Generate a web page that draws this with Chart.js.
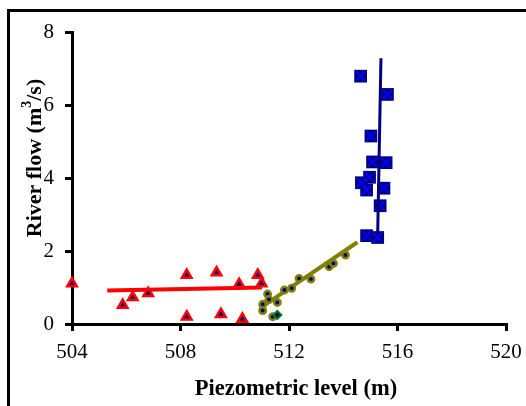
<!DOCTYPE html>
<html>
<head>
<meta charset="utf-8">
<script src="https://cdn.jsdelivr.net/npm/chart.js@4.4.1/dist/chart.umd.min.js"></script>
<style>
  html, body { margin: 0; padding: 0; background: #fff; }
  #wrap { width: 526px; height: 406px; position: relative; }
</style>
</head>
<body>
<div id="wrap"><canvas id="chart" width="526" height="406"></canvas></div>
<script>
/* ── Data ── */
const redX   = [504.0, 505.87, 506.24, 506.81, 508.23, 508.23, 509.33, 509.49, 510.16, 510.28, 510.85, 510.99];
const redY   = [1.11, 0.52, 0.73, 0.84, 1.34, 0.20, 1.41, 0.27, 1.09, 0.14, 1.34, 1.11];

const oliveX = [511.03, 511.03, 511.21, 511.26, 511.40, 511.57, 511.83, 512.10, 512.37, 512.81, 513.48, 513.64, 514.08];
const oliveY = [0.54, 0.37, 0.82, 0.67, 0.20, 0.59, 0.93, 0.98, 1.25, 1.23, 1.57, 1.66, 1.89];

const greenX = [511.57];
const greenY = [0.25];

const blueX  = [514.64, 515.63, 515.02, 515.08, 515.58, 514.97, 514.67, 514.86, 515.50, 515.36, 514.86, 515.27];
const blueY  = [6.79, 6.29, 5.15, 4.44, 4.42, 4.02, 3.87, 3.67, 3.72, 3.24, 2.42, 2.37];

// trend lines (end points)
const redFitX   = [505.3, 511.0];
const redFitY   = [0.92, 1.00];
const oliveFitX = [511.0, 514.52];
const oliveFitY = [0.47, 2.24];
const blueFitX  = [515.27, 515.39];
const blueFitY  = [2.48, 7.28];

const xTicks = [504, 508, 512, 516, 520];
const yTicks = [0, 2, 4, 6, 8];

const FONT = "'Liberation Serif', 'Times New Roman', serif";

const pts = (xs, ys) => xs.map((x, i) => ({ x, y: ys[i] }));

/* ── Frame + axis titles ── */
const decoPlugin = {
  id: 'deco',
  beforeDraw(chart) {
    const ctx = chart.ctx;
    ctx.save();
    ctx.fillStyle = '#000';
    ctx.fillRect(7, 9, 3, 406);
    ctx.fillRect(7, 9, 526, 3);
    ctx.restore();
  },
  afterDraw(chart) {
    const { ctx, chartArea: a } = chart;
    ctx.save();
    ctx.fillStyle = '#000';
    ctx.textAlign = 'center';
    ctx.textBaseline = 'middle';
    ctx.font = `bold 22.5px ${FONT}`;
    ctx.fillText('Piezometric level (m)', (a.left + a.right) / 2 + 7, a.bottom + 65);

    // y title with a real superscript
    const big = `bold 22px ${FONT}`, small = `bold 14px ${FONT}`;
    const parts = [['River flow (m', big, 0], ['3', small, -8], ['/s)', big, 0]];
    let total = 0;
    parts.forEach(p => { ctx.font = p[1]; total += ctx.measureText(p[0]).width; });
    ctx.translate(a.left - 37, (a.top + a.bottom) / 2 - 20);
    ctx.rotate(-Math.PI / 2);
    ctx.textAlign = 'left';
    let x = -total / 2;
    parts.forEach(p => {
      ctx.font = p[1];
      ctx.fillText(p[0], x, p[2]);
      x += ctx.measureText(p[0]).width;
    });
    ctx.restore();
  }
};

const lineSet = (xs, ys, color, w) => ({
  type: 'line', data: pts(xs, ys), borderColor: color, borderWidth: w,
  pointRadius: 0, fill: false, showLine: true, order: 5
});

new Chart(document.getElementById('chart'), {
  type: 'scatter',
  data: {
    datasets: [
      lineSet(redFitX, redFitY, '#ff0000', 4),
      lineSet(oliveFitX, oliveFitY, '#808000', 4),
      {
        data: pts(redX, redY), pointStyle: 'triangle', pointRadius: 5.5,
        backgroundColor: '#000080', borderColor: '#ff0000', borderWidth: 2.5, order: 3
      },
      {
        data: pts(oliveX, oliveY), pointStyle: 'circle', pointRadius: 3.2,
        backgroundColor: '#000080', borderColor: '#808000', borderWidth: 2.5, order: 3
      },
      {
        data: pts(greenX, greenY), pointStyle: 'rectRot', pointRadius: 4,
        backgroundColor: '#000080', borderColor: '#008000', borderWidth: 2, order: 2
      },
      {
        data: pts(blueX, blueY), pointStyle: 'rect', pointRadius: 9,
        backgroundColor: '#000080', borderColor: '#000080', borderWidth: 0, order: 3
      },
      {
        data: pts(blueX, blueY), pointStyle: 'crossRot', pointRadius: 6.6,
        backgroundColor: '#0000ff', borderColor: '#0000ff', borderWidth: 2, order: 2
      },
      Object.assign(lineSet(blueFitX, blueFitY, '#000080', 3), { order: 1 })
    ]
  },
  options: {
    responsive: false,
    animation: false,
    events: [],
    clip: false,
    layout: { padding: { top: 32, right: 0, left: 0, bottom: 0 } },
    plugins: { legend: { display: false }, tooltip: { enabled: false } },
    scales: {
      x: {
        type: 'linear', min: 504, max: 520,
        afterBuildTicks: s => { s.ticks = xTicks.map(v => ({ value: v })); },
        afterFit: s => { s.height = 82; s.paddingRight = 20; },
        grid: { display: true, drawOnChartArea: false, drawTicks: true, tickLength: 7, color: '#000', lineWidth: 3 },
        border: { display: true, color: '#000', width: 3 },
        ticks: { color: '#000', font: { family: FONT, size: 21 }, padding: 9, maxRotation: 0 }
      },
      y: {
        type: 'linear', min: 0, max: 8,
        afterBuildTicks: s => { s.ticks = yTicks.map(v => ({ value: v })); },
        afterFit: s => { s.width = 72; },
        grid: { display: true, drawOnChartArea: false, drawTicks: true, tickLength: 7, color: '#000', lineWidth: 3 },
        border: { display: true, color: '#000', width: 3 },
        ticks: { color: '#000', font: { family: FONT, size: 21 }, padding: 11 }
      }
    }
  },
  plugins: [decoPlugin]
});
</script>
</body>
</html>
